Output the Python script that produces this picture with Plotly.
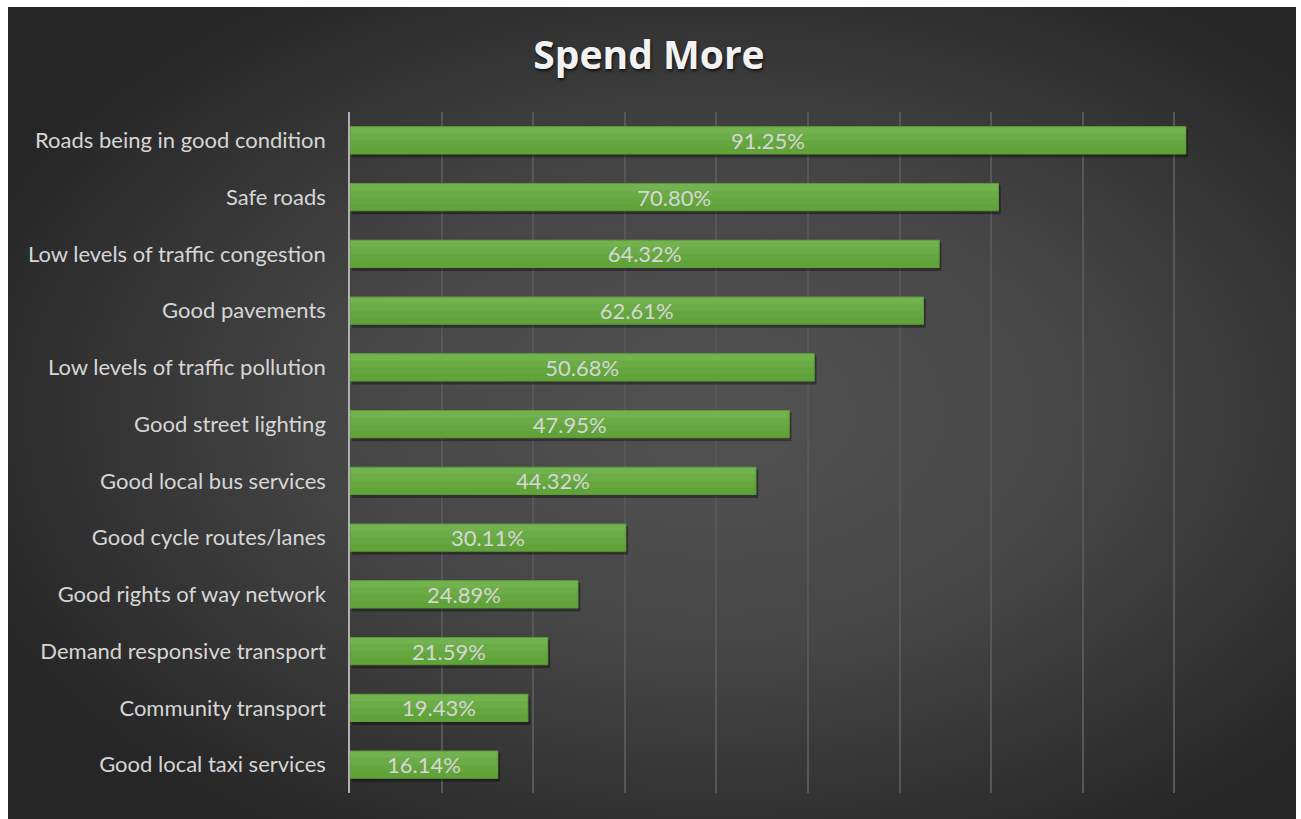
import base64
import plotly.graph_objects as go

# Survey results: share of respondents wanting more spend on each item
categories = [
    "Roads being in good condition",
    "Safe roads",
    "Low levels of traffic congestion",
    "Good pavements",
    "Low levels of traffic pollution",
    "Good street lighting",
    "Good local bus services",
    "Good cycle routes/lanes",
    "Good rights of way network",
    "Demand responsive transport",
    "Community transport",
    "Good local taxi services",
]
values = [91.25, 70.80, 64.32, 62.61, 50.68, 47.95, 44.32, 30.11, 24.89, 21.59, 19.43, 16.14]
value_labels = [f"{v:.2f}%" for v in values]

W, H = 1301, 819
M_L, M_R, M_T, M_B = 350, 35, 112, 26
plot_w = W - M_L - M_R
plot_h = H - M_T - M_B

# Dark panel with a soft radial glow, drawn as an SVG image behind everything
svg = """<svg xmlns='http://www.w3.org/2000/svg' width='1288' height='812' viewBox='0 0 1288 812' preserveAspectRatio='none'>
<defs><radialGradient id='g' cx='0.55' cy='0.5' r='0.62' gradientUnits='objectBoundingBox'>
<stop offset='0' stop-color='#525252'/>
<stop offset='0.45' stop-color='#474747'/>
<stop offset='1' stop-color='#262626'/>
</radialGradient></defs>
<rect x='0' y='0' width='1288' height='812' fill='url(#g)'/>
</svg>"""
svg_uri = "data:image/svg+xml;base64," + base64.b64encode(svg.encode()).decode()


def px_to_paper_x(px):
    return (px - M_L) / plot_w


def px_to_paper_y(py):
    return 1 - (py - M_T) / plot_h


BAR_W = 0.48
fig = go.Figure()

# drop shadow under each bar
fig.add_trace(go.Bar(
    y=categories, x=values, orientation="h",
    base=0.25, width=0.5, offset=-0.2,
    marker=dict(color="rgba(0,0,0,0.35)", line=dict(width=0)),
    hoverinfo="skip", showlegend=False,
))

# bar body, shaded in bands from dark (bottom) to light (top)
bands = [
    (1.00, "#60a338"),
    (0.75, "#65a73e"),
    (0.50, "#6bac46"),
    (0.25, "#72b24f"),
]
for frac, col in bands:
    fig.add_trace(go.Bar(
        y=categories, x=values, orientation="h",
        width=BAR_W * frac, offset=-BAR_W / 2,
        marker=dict(color=col, line=dict(width=0)),
        hoverinfo="skip", showlegend=False,
    ))

# outline and value labels
fig.add_trace(go.Bar(
    y=categories, x=values, orientation="h",
    width=BAR_W, offset=-BAR_W / 2,
    marker=dict(color="rgba(0,0,0,0)", line=dict(color="#5c9a38", width=1)),
    text=value_labels, textposition="inside", insidetextanchor="middle",
    constraintext="none",
    textfont=dict(family="Lato, sans-serif", size=22, color="#d6d6d6"),
    cliponaxis=False, showlegend=False,
))

fig.update_layout(
    width=W, height=H,
    margin=dict(l=M_L, r=M_R, t=M_T, b=M_B),
    paper_bgcolor="white",
    plot_bgcolor="rgba(0,0,0,0)",
    barmode="overlay",
    title=dict(
        text="<b>Spend More</b>",
        x=649 / W, xref="container", xanchor="center",
        y=1 - 55 / H, yref="container", yanchor="middle",
        font=dict(family="Open Sans, sans-serif", size=39, color="#f2f2f2",
                  shadow="1px 2px 3px rgba(0,0,0,0.7)"),
    ),
    images=[dict(
        source=svg_uri, xref="paper", yref="paper",
        x=px_to_paper_x(8), y=px_to_paper_y(7),
        sizex=px_to_paper_x(1296) - px_to_paper_x(8),
        sizey=px_to_paper_y(7) - px_to_paper_y(819),
        sizing="stretch", xanchor="left", yanchor="top", layer="below",
    )],
    xaxis=dict(
        range=[0, 100], dtick=10, showticklabels=False,
        showgrid=True, gridcolor="#575757", gridwidth=2,
        zeroline=False, showline=False, fixedrange=True,
    ),
    yaxis=dict(
        autorange="reversed", showgrid=False, zeroline=False,
        showline=True, linecolor="#b0b0b0", linewidth=1.5,
        ticks="", ticklabelstandoff=18,
        tickfont=dict(family="Lato, sans-serif", size=22, color="#d6d6d6"),
    ),
)

fig.write_html("out.html")
